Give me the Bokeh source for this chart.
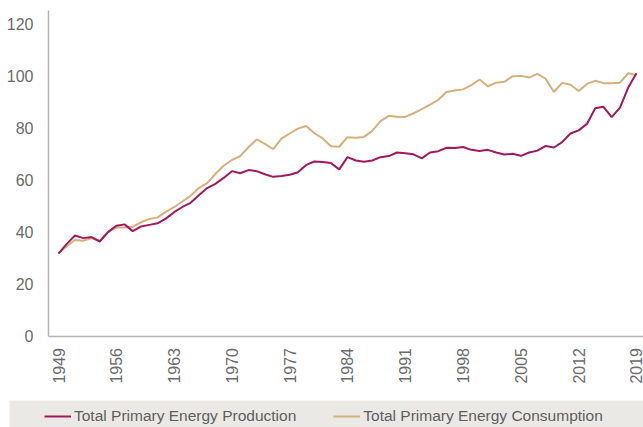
from bokeh.plotting import figure
from bokeh.models import (Range1d, FixedTicker, Legend, LegendItem, BoxAnnotation,
                          ColumnDataSource)
from bokeh.embed import file_html
from bokeh.resources import INLINE

years = list(range(1949, 2020))
production = [31.7, 35.5, 38.7, 37.7, 38.1, 36.4, 40.0, 42.5, 43.0, 40.4,
              42.2, 42.8, 43.4, 45.2, 47.7, 49.7, 51.3, 54.2, 57.0, 58.6,
              60.9, 63.5, 62.7, 63.9, 63.5, 62.3, 61.3, 61.6, 62.1, 63.1,
              65.9, 67.2, 67.0, 66.6, 64.2, 68.9, 67.6, 67.1, 67.6, 68.9,
              69.3, 70.7, 70.4, 70.0, 68.4, 70.7, 71.2, 72.5, 72.4, 72.8,
              71.7, 71.3, 71.7, 70.7, 69.9, 70.2, 69.4, 70.7, 71.4, 73.2,
              72.6, 74.7, 78.0, 79.2, 81.7, 87.7, 88.3, 84.3, 88.0, 95.7,
              101.2]
consumption = [32.0, 34.6, 37.0, 36.7, 37.7, 36.6, 40.2, 41.8, 41.8, 42.1,
               43.8, 45.1, 45.7, 47.8, 49.6, 51.8, 54.0, 57.0, 58.9, 62.4,
               65.6, 67.8, 69.3, 72.7, 75.7, 74.0, 72.0, 76.0, 78.0, 79.9,
               80.9, 78.1, 76.1, 73.1, 72.9, 76.6, 76.4, 76.7, 79.0, 82.8,
               84.8, 84.5, 84.4, 85.8, 87.4, 89.1, 91.0, 94.0, 94.6, 95.0,
               96.6, 98.8, 96.2, 97.6, 97.9, 100.1, 100.2, 99.6, 101.0, 99.1,
               94.0, 97.5, 96.8, 94.4, 97.1, 98.3, 97.4, 97.4, 97.6, 101.2,
               100.5]
x_ticks = list(range(1949, 2020, 7))
y_ticks = [0, 20, 40, 60, 80, 100, 120]
series_names = ["Total Primary Energy Production", "Total Primary Energy Consumption"]
series_colors = ["#a3185c", "#d5b07b"]

# layout geometry (pixels)
W, H = 643, 427
AX_X, AX_Y, AX_TOP = 48, 335.5, 10
X0_PX, PX_PER_YEAR = 58, 8.257
PX_PER_UNIT = 2.596

x_first = years[0] - (X0_PX - AX_X) / PX_PER_YEAR
x_start = x_first - AX_X / PX_PER_YEAR
x_end = x_first + (W - AX_X) / PX_PER_YEAR
y_top = AX_Y / PX_PER_UNIT
y_bottom = -(H - AX_Y) / PX_PER_UNIT
y_axis_top = (AX_Y - AX_TOP) / PX_PER_UNIT

src = ColumnDataSource(dict(year=years, prod=production, cons=consumption))

p = figure(width=W, height=H, output_backend="svg", toolbar_location=None,
           x_range=Range1d(x_start, x_end), y_range=Range1d(y_bottom, y_top),
           min_border_left=0, min_border_right=0, min_border_top=0,
           min_border_bottom=0)
p.outline_line_color = None
p.grid.visible = False
p.background_fill_color = "white"
p.border_fill_color = "white"

band = BoxAnnotation(left=9, right=W, bottom=0, top=27,
                     left_units="screen", right_units="screen",
                     bottom_units="screen", top_units="screen",
                     fill_color="#ebe9e6", fill_alpha=1.0, line_color=None,
                     level="underlay")
p.add_layout(band)

FONT = "Liberation Sans"
for ax in (p.xaxis[0], p.yaxis[0]):
    ax.axis_line_color = "#b5b5b5"
    ax.axis_line_width = 1.5
    ax.major_tick_line_color = None
    ax.minor_tick_line_color = None
    ax.major_tick_out = 0
    ax.major_tick_in = 0
    ax.minor_tick_out = 0
    ax.major_label_text_color = "#6b6b6b"
    ax.major_label_text_font = FONT
    ax.major_label_text_font_size = "16px"

p.xaxis.fixed_location = 0
p.yaxis.fixed_location = x_first
p.xaxis.bounds = (x_first, x_end)
p.yaxis.bounds = (0, y_axis_top)
p.xaxis.ticker = FixedTicker(ticks=x_ticks)
p.yaxis.ticker = FixedTicker(ticks=y_ticks)
p.xaxis.major_label_orientation = 1.5707963
p.xaxis.major_label_standoff = 12
p.yaxis.major_label_standoff = 15

r_cons = p.line("year", "cons", source=src, line_color=series_colors[1], line_width=2)
r_prod = p.line("year", "prod", source=src, line_color=series_colors[0], line_width=2)

legend = Legend(items=[LegendItem(label=series_names[0], renderers=[r_prod]),
                       LegendItem(label=series_names[1], renderers=[r_cons])],
                location=(44, 1), orientation="horizontal",
                background_fill_alpha=0, border_line_color=None,
                padding=0, margin=0, spacing=37, glyph_width=27,
                label_standoff=3, label_text_font=FONT,
                label_text_font_size="15.5px", label_text_color="#5e5e5e")
p.add_layout(legend)

open("out.html", "w").write(file_html(p, INLINE))
